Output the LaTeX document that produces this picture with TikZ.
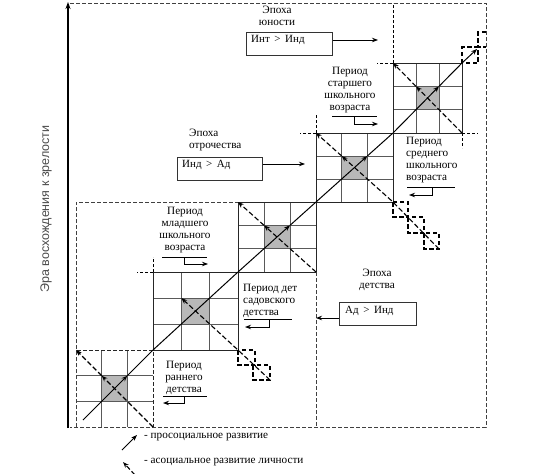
\documentclass[tikz,border=0pt]{standalone}
\usepackage{fontspec}
\setmainfont{Liberation Serif}
\newfontfamily\axisfont{Liberation Sans}
\usetikzlibrary{arrows.meta,calc}
\begin{document}
\begin{tikzpicture}[x=1pt,y=-1pt,
  lbl/.style={font=\fontsize{11.2}{12}\selectfont, inner sep=0pt, align=center},
  lbll/.style={lbl, align=left, anchor=west},
  gridln/.style={draw=black!65, line width=0.7pt},
  blockborder/.style={draw=black!85, line width=0.9pt},
  shade/.style={fill=black!28},
  pro/.style={draw=black, line width=1pt},
  aso/.style={draw=black, line width=1.1pt, dash pattern=on 5pt off 2.5pt},
  tip/.style={-{Stealth[length=6pt,width=4.5pt]}},
  ext/.style={draw=black, line width=0.9pt, dash pattern=on 3pt off 2pt},
  stair/.style={draw=black, line width=1.2pt, dash pattern=on 4.5pt off 2.5pt},
  b1border/.style={draw=black!85, line width=1pt, dash pattern=on 4pt off 2pt},
  outer/.style={draw=black!75, line width=1pt, dash pattern=on 4pt off 2pt},
  epochbox/.style={draw=black!80, line width=0.9pt, minimum width=#1, minimum height=23pt, inner sep=0pt, anchor=north west},
  boxtext/.style={font=\fontsize{11}{12}\selectfont, inner sep=0pt, anchor=west},
  thinarrow/.style={draw=black, line width=0.9pt, -{Stealth[length=6pt,width=4.5pt]}},
  uline/.style={draw=black, line width=0.7pt}
]
\useasboundingbox (0,0) rectangle (560,474);

% ---------- blocks ----------
\foreach \i/\xa/\ya/\xb/\yb in {1/76/427/153/350, 2/153/350/238/272, 3/238/272/316/202, 4/316/202/393/133, 5/393/133/462/63}{
  \coordinate (b\i-bl) at (\xa,\ya);
  \coordinate (b\i-tr) at (\xb,\yb);
  \coordinate (b\i-br) at (\xb,\ya);
  \coordinate (b\i-tl) at (\xa,\yb);
  \coordinate (b\i-ctr) at ($(b\i-bl)!2/3!(b\i-tr)$);
  \coordinate (b\i-cbl) at ($(b\i-bl)!1/3!(b\i-tr)$);
  \coordinate (b\i-ctl) at ($(b\i-br)!2/3!(b\i-tl)$);
  \fill[shade] (b\i-cbl) rectangle (b\i-ctr);
  \draw[gridln] ($(b\i-bl)!1/3!(b\i-br)$) -- ($(b\i-tl)!1/3!(b\i-tr)$);
  \draw[gridln] ($(b\i-bl)!2/3!(b\i-br)$) -- ($(b\i-tl)!2/3!(b\i-tr)$);
  \draw[gridln] ($(b\i-bl)!1/3!(b\i-tl)$) -- ($(b\i-br)!1/3!(b\i-tr)$);
  \draw[gridln] ($(b\i-bl)!2/3!(b\i-tl)$) -- ($(b\i-br)!2/3!(b\i-tr)$);
}
\foreach \i in {2,3,4,5}{\draw[blockborder] (b\i-bl) rectangle (b\i-tr);}
\draw[b1border] (b1-bl) rectangle (b1-tr);

% ---------- frames ----------
\coordinate (o-tl) at (70,3);
\coordinate (o-tr) at (486,3);
\coordinate (o-br) at (486,427);
\coordinate (o-bl) at (70,427);
\draw[outer] (o-tl) -- (o-tr) -- (o-br) -- (o-bl);
% childhood frame
\coordinate (c-tl) at (76,202);
\draw[outer] (b1-bl) -- (c-tl) -- (b2-tr |- c-tl);
\draw[outer] (b3-br) -- (b3-br |- o-br);
% corner extensions
\draw[ext] (b2-tl) -- ++(0,-15);
\draw[ext] (b2-tl) -- ++(-16,0);
\draw[ext] (b4-tl) -- ++(0,-18);
\draw[ext] (b4-tl) -- ++(-16,0);
\draw[ext] (b5-tl) -- ++(-16,0);
\draw[ext] (b5-tl) -- (b5-tl |- o-tl);
\draw[ext] (b5-br) -- ++(16,0);
\draw[ext] (b5-br) -- ++(0,15);

% staircase squares
\coordinate (q2a) at (255,365);
\coordinate (q2b) at (270,380);
\draw[stair] (b2-br) rectangle (q2a);
\draw[stair] (253,365) rectangle (q2b);
\coordinate (q4a) at (408,217);
\coordinate (q4b) at (424,233);
\coordinate (q4c) at (439,249);
\draw[stair] (b4-br) rectangle (q4a);
\draw[stair] (q4a) rectangle (q4b);
\draw[stair] (q4b) rectangle (q4c);
\coordinate (q5a) at (478,47);
\draw[stair] (b5-tr) rectangle (q5a);
\draw[stair] (486,32) -- (478,32) -- (q5a) -- (486,47);

% ---------- prosocial line ----------
\coordinate (s0) at (83,420);
\coordinate (e0) at (477,49);
\draw[pro,tip] (s0) -- (b1-ctr);
\draw[pro,tip] (b1-ctr) -- (b2-bl) -- (b2-tr) -- (b3-ctr);
\draw[pro,tip] (b3-ctr) -- (b4-bl) -- (b4-ctr);
\draw[pro,tip] (b4-ctr) -- (b5-bl) -- (b5-ctr);
\draw[pro,tip] (b5-ctr) -- (b5-tr) -- (e0);

% ---------- asocial lines ----------
\draw[aso,tip] (b1-br) -- (b1-ctl);
\draw[aso,tip] (b1-ctl) -- (b1-tl);
\draw[aso,tip] (q2b) -- (b2-br) -- (b2-ctl);
\draw[aso,tip] (b3-br) -- (b3-ctl);
\draw[aso,tip] (b3-ctl) -- (b3-tl);
\draw[aso,tip] (q4c) -- (b4-br) -- (b4-ctl);
\draw[aso,tip] (b4-ctl) -- (b4-tl);
\draw[aso,tip] (b5-br) -- (b5-ctl);
\draw[aso,tip] (b5-ctl) -- (b5-tl);

% ---------- axis ----------
\coordinate (ax0) at (68,428);
\coordinate (ax1) at (68,2);
\draw[line width=2pt, -{Stealth[length=7pt,width=5pt]}] (ax0) -- (ax1);
\node[rotate=90, font=\axisfont\fontsize{12.5}{14}\selectfont, text=black!70, inner sep=0pt] (axl) at (46,209) {Эра восхождения к зрелости};

% ---------- epochs ----------
\node[lbl] (ey) at (277,16) {Эпоха\\юности};
\node[epochbox=86pt] (by) at (246,32) {};
\node[boxtext] (byt) at (251,40) {Инт \,>\, Инд};
\coordinate (bya) at (378,40);
\draw[thinarrow] (by.east |- bya) -- (bya);

\node[lbll] (eo) at (189,140) {Эпоха\\отрочества};
\node[epochbox=85pt] (bo) at (177,157) {};
\node[boxtext] (bot) at (182,165) {Инд \,>\, Ад};
\coordinate (boa) at (305,164);
\draw[thinarrow] (bo.east |- boa) -- (boa);

\node[lbl] (ed) at (377,280) {Эпоха\\детства};
\node[epochbox=77pt] (bd) at (339,302) {};
\node[boxtext] (bdt) at (345,311) {Ад \,>\, Инд};
\coordinate (bda) at (316,318);
\draw[thinarrow] (bd.west |- bda) -- (bda);

% ---------- periods ----------
\node[lbl] (p1) at (184,378) {Период\\раннего\\детства};
\draw[uline] (163,396) -- (207,396);
\coordinate (p1a) at (184,396);
\coordinate (p1b) at (163,403);
\draw[thinarrow] (p1a) |- (p1b);

\node[lbll] (p2) at (243,301) {Период дет\\садовского\\детства};
\draw[uline] (244,319) -- (292,319);
\coordinate (p2a) at (269,319);
\coordinate (p2b) at (245,327);
\draw[thinarrow] (p2a) |- (p2b);

\node[lbl] (p3) at (185,230) {Период\\младшего\\школьного\\возраста};
\draw[uline] (162,257) -- (207,257);
\coordinate (p3a) at (184,257);
\coordinate (p3b) at (208,264);
\draw[thinarrow] (p3a) |- (p3b);

\node[lbll] (p4) at (406,160) {Период\\среднего\\школьного\\возраста};
\draw[uline] (407,187) -- (455,187);
\coordinate (p4a) at (432,187);
\coordinate (p4b) at (409,195);
\draw[thinarrow] (p4a) |- (p4b);

\node[lbl] (p5) at (350,90) {Период\\старшего\\школьного\\возраста};
\draw[uline] (332,116) -- (377,116);
\coordinate (p5a) at (354,116);
\coordinate (p5b) at (378,124);
\draw[thinarrow] (p5a) |- (p5b);

% ---------- legend ----------
\coordinate (l1a) at (122,450);
\coordinate (l1b) at (137,435);
\draw[pro,tip] (l1a) -- (l1b);
\node[lbll] (l1t) at (144,437) {- просоциальное развитие};
\coordinate (l2a) at (135,475);
\coordinate (l2b) at (123,462);
\draw[aso,tip] (l2a) -- (l2b);
\node[lbll] (l2t) at (144,462) {- асоциальное развитие личности};
\end{tikzpicture}
\end{document}
